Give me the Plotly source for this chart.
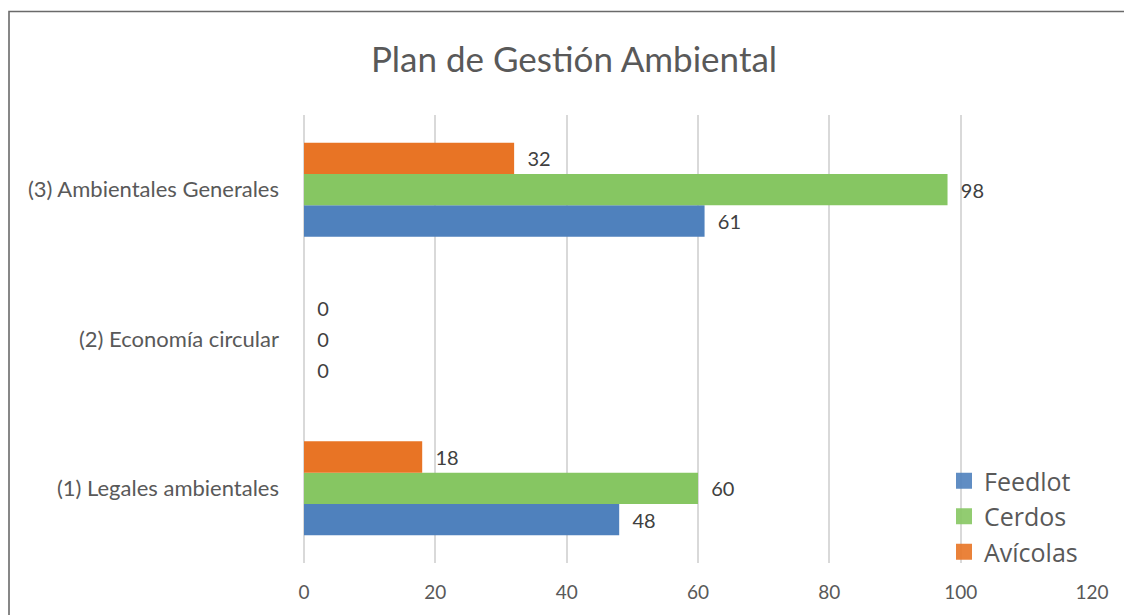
import plotly.graph_objects as go

categories = ["(1) Legales ambientales", "(2) Economía circular", "(3) Ambientales Generales"]
feedlot = [48, 0, 61]
cerdos = [60, 0, 98]
avicolas = [18, 0, 32]
series_names = ["Feedlot", "Cerdos", "Avícolas"]
x_ticks = [0, 20, 40, 60, 80, 100, 120]

colors = ["#4F81BD", "#86C662", "#E87425"]

# page body has an 8px margin; the figure is placed at (8, 8)
OFF = 8
W, H = 1132 - OFF, 615 - OFF
PL, PR, PT, PB = 304, 1092, 115, 563  # plot area in window pixels
L, R, T, B = PL - OFF, 1132 - PR, PT - OFF, 615 - PB
pw, ph = PR - PL, PB - PT

def px_x(p):
    return (p - PL) / pw

def px_y(p):
    return (PB - p) / ph

fig = go.Figure()
for name, vals, col in zip(series_names, [feedlot, cerdos, avicolas], colors):
    fig.add_trace(go.Bar(
        y=categories, x=vals, name=name, orientation="h",
        marker=dict(color=col, line=dict(width=0)),
        text=["\u00a0\u00a0" + str(v) for v in vals], textposition="outside",
        textfont=dict(family="Lato", size=20, color="#404040"),
        cliponaxis=False, showlegend=False, legendgroup=name,
    ))
# legend entries with larger square swatches
for name, col in zip(series_names, colors):
    fig.add_trace(go.Scatter(
        x=[None], y=[None], mode="markers", name=name, legendgroup=name,
        marker=dict(symbol="square", size=16, color=col, opacity=0.9),
        showlegend=True,
    ))

fig.add_shape(type="rect", xref="paper", yref="paper",
              x0=px_x(9), x1=px_x(1300), y0=px_y(700), y1=px_y(11.5),
              line=dict(color="#6a6a6a", width=1.6), fillcolor="rgba(0,0,0,0)",
              layer="above")

fig.update_layout(
    width=W, height=H,
    margin=dict(l=L, r=R, t=T, b=B, pad=0),
    paper_bgcolor="white", plot_bgcolor="white",
    barmode="group", bargap=0.37, bargroupgap=0,
    title=dict(text="Plan de Gestión Ambiental", x=(574 - OFF) / W, xanchor="center",
               y=1 - (60 - OFF) / H, yanchor="middle",
               font=dict(family="Lato", size=35, color="#595959")),
    xaxis=dict(range=[0, 120], tickvals=x_ticks, showgrid=True, gridcolor="#d9d9d9",
               gridwidth=1.5, zeroline=True, zerolinecolor="#d9d9d9", zerolinewidth=1.5,
               showline=False, ticks="", ticklabelstandoff=16,
               tickfont=dict(family="Lato", size=19, color="#595959")),
    yaxis=dict(categoryorder="array", categoryarray=categories, showgrid=False,
               showline=False, ticks="", ticklabelstandoff=24,
               tickfont=dict(family="Lato", size=22, color="#595959")),
    legend=dict(x=px_x(944), y=px_y(458), xanchor="left", yanchor="top",
                traceorder="normal", bgcolor="rgba(0,0,0,0)", itemsizing="trace",
                font=dict(family="Open Sans", size=25, color="#595959"),
                itemwidth=30, tracegroupgap=0),
    showlegend=True,
)

fig.write_html("out.html", config={"displayModeBar": False})
